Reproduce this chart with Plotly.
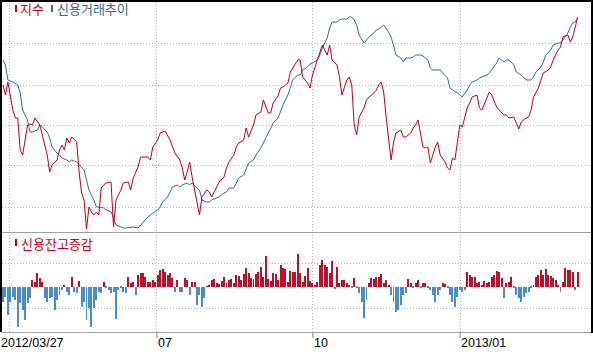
import plotly.graph_objects as go

# ---------------- data ----------------
# daily change of credit balance (lower panel), one value per trading day
bar_val = [-45, -30, -85, -45, -30, -40, -120, -50, -70, -100,
           -50, -35, 20, 15, 40, 25, 15, -35, -45, -35,
           -30, -70, -40, -25, -10, 5, -15, -25, 28, -15,
           -20, 17, -60, -45, -100, -65, -120, -65, -40, -15,
           -20, 15, -5, -10, -20, -15, -98, -10, -5, -15,
           -20, 30, 10, 15, -25, 35, 40, 42, 30, 15,
           15, 20, 15, 35, 50, 52, 45, 35, 40, 25,
           -15, 20, -15, -15, 25, 20, -25, 15, 15, -55,
           -25, -60, -35, 2, 5, 20, 23, 10, 7, 17,
           28, 10, 20, 22, 10, 35, 32, 20, 37, 55,
           40, 25, 22, 38, 45, 60, 30, 92, 22, 17,
           40, 37, 20, 65, 55, 52, 15, 48, 45, 45,
           97, 40, 15, 32, 55, 17, 12, 5, 15, 65,
           80, 65, 60, 40, 78, -8, 60, 10, 20, 20,
           10, 5, -3, 25, -5, -20, -45, -95, -40, 10,
           25, 22, 28, 30, 38, 10, 20, 5, -25, -45,
           -75, -70, -55, -25,
           -20, 22, 10, -5, 12, 20, -5, 10, 12, -5,
           -10, -25, -45, -25, -10, 10, 7, -5, -25, -45,
           -62, -30, -10, -15, -10, 45, 35, 30, 28, 10,
           15, 5, 17, 12, 15, 30, 35, 47, 45, 25,
           -35, 10, 15, 30, -5, -25, -35, -45, -32, -20,
           -15, -5, 3, 30, 35, 50, 35, 52, 35, 32,
           25, 20, 5, -15, 15, 55, 50, 50, 45, -10,
           45]
bar_day = list(range(len(bar_val)))

# 지수 (index), sampled trading-day positions and values
red_day = [0, 1, 2, 4, 5, 6, 7, 8, 10, 11, 12, 13, 15, 16, 18, 19, 20, 22, 23, 24,
           25, 26, 27, 28, 30, 31, 32, 33, 34, 35, 36, 37, 38, 39, 40, 41, 42, 44, 45, 46,
           47, 48, 49, 51, 52, 53, 55, 56, 57, 59, 60, 61, 63, 64, 66, 68, 70, 72, 73, 74,
           75, 76, 77, 79, 80, 81, 83, 84, 85, 87, 88, 90, 91, 92, 94, 95, 96, 98, 99, 100,
           102, 103, 105, 106, 108, 109, 110, 112, 113, 114, 116, 117, 118, 120, 121, 122, 124, 125, 126, 128,
           129, 130, 132, 133, 134, 136, 137, 138, 140, 141, 142, 143, 144, 145, 147, 148, 149, 151, 152, 153,
           154, 155, 156, 157, 158, 159, 160, 162, 163, 164, 166, 167, 168, 169, 171, 172, 173, 174, 176, 177,
           178, 180, 181, 182, 183, 184, 185, 186, 187, 189, 190, 191, 193, 194, 195, 197, 198, 199, 201, 202,
           204, 205, 206, 208, 210, 211, 213, 214, 215, 216, 218, 219, 220, 222, 223, 224, 226, 227, 228, 230,
           231, 232, 233, 234]
red_val = [147, 137, 150, 122, 114, 114, 82, 77, 107, 108, 107, 114, 107, 97, 77, 60, 67, 72, 82, 87,
           82, 94, 89, 95, 90, 60, 39, 32, 3, 25, 20, 17, 20, 17, 44, 47, 49, 50, 5, 32,
           37, 42, 49, 50, 42, 54, 65, 75, 75, 75, 72, 85, 92, 99, 101, 92, 79, 72, 64, 52,
           60, 70, 55, 32, 17, 35, 42, 40, 35, 45, 50, 55, 64, 70, 77, 85, 89, 92, 104, 95,
           107, 117, 120, 132, 119, 119, 129, 136, 144, 145, 149, 160, 164, 172, 172, 155, 149, 144, 157, 172,
           180, 187, 177, 187, 172, 167, 155, 137, 152, 155, 147, 107, 97, 115, 124, 132, 135, 139, 142, 147,
           150, 140, 115, 90, 72, 89, 99, 102, 95, 95, 99, 104, 107, 112, 85, 84, 85, 69, 85, 90,
           77, 70, 64, 62, 74, 72, 92, 107, 105, 124, 129, 135, 137, 124, 122, 135, 140, 137, 125, 122,
           117, 117, 114, 115, 103, 110, 114, 115, 122, 135, 144, 152, 159, 162, 165, 172, 182, 185, 195, 197,
           190, 195, 205, 215]

# 신용거래추이 (credit trading trend)
blue_day = [0, 1, 2, 4, 6, 7, 8, 10, 11, 12, 14, 15, 16, 18, 19, 20, 22, 23, 24, 26,
            27, 28, 30, 31, 33, 34, 35, 37, 38, 39, 41, 42, 44, 45, 46, 48, 49, 50, 52, 53,
            55, 56, 57, 59, 60, 61, 63, 64, 65, 67, 68, 69, 71, 72, 73, 75, 76, 77, 79, 80,
            81, 83, 84, 85, 87, 88, 90, 91, 92, 94, 95, 96, 98, 99, 100, 102, 103, 105, 106, 108,
            109, 110, 112, 113, 114, 116, 117, 118, 120, 121, 122, 124, 125, 126, 128, 129, 130, 132, 133, 134,
            136, 137, 138, 140, 141, 142, 143, 144, 145, 147, 148, 149, 151, 152, 153, 154, 155, 157, 158, 159,
            160, 162, 163, 164, 166, 167, 168, 170, 171, 173, 174, 175, 177, 178, 179, 181, 182, 183, 185, 186,
            187, 189, 190, 191, 193, 194, 195, 197, 198, 199, 201, 202, 204, 205, 206, 208, 209, 211, 212, 213,
            215, 216, 217, 219, 220, 221, 223, 224, 226, 227, 228, 230, 231, 232, 233, 234]
blue_val = [172, 167, 152, 150, 147, 139, 122, 112, 100, 100, 102, 107, 105, 100, 94, 85, 79, 77, 74, 72,
            70, 72, 70, 67, 62, 52, 42, 32, 25, 25, 24, 22, 20, 14, 7, 5, 4, 4, 5, 5,
            4, 7, 10, 15, 17, 19, 22, 25, 30, 35, 40, 45, 47, 45, 47, 49, 47, 49, 44, 42,
            32, 30, 30, 32, 34, 35, 39, 40, 44, 44, 49, 54, 57, 64, 69, 72, 77, 84, 89, 99,
            104, 109, 114, 120, 127, 137, 144, 152, 157, 157, 162, 165, 168, 169, 172, 177, 184, 194, 204, 210,
            210, 212, 213, 213, 215, 215, 212, 207, 197, 189, 192, 195, 199, 202, 203, 205, 207, 200, 195, 187,
            177, 174, 170, 174, 174, 175, 177, 177, 176, 172, 164, 162, 162, 162, 159, 154, 144, 142, 139, 137,
            135, 142, 147, 150, 152, 154, 155, 157, 159, 162, 169, 174, 170, 172, 172, 167, 160, 157, 154, 152,
            152, 155, 160, 165, 170, 177, 182, 187, 189, 189, 192, 199, 205, 209, 210, 214]

# quarterly month-start gridlines and their labels
tick_day = [2.5, 62.7, 126.2, 186.1]
tick_text = ["2012/03/27", "07", "10", "2013/01"]

# ---------------- styling / layout ----------------
W, H = 593, 352
def py(p):
    return 1 - p / H
def px(p):
    return p / W

RED = "#c4001c"
BLUE = "#3468a8"
BAR_RED = "#c01028"
BAR_BLUE = "#4a8ccc"
GRID = "#b8b8b8"
FONT = "Noto Sans CJK KR"
NUMFONT = "Liberation Sans"

X0, X1 = 2, 591           # plot area in pixels
DX = 2.456                # pixels per trading day
XR = [(X0 - 3) / DX, (X1 - 3) / DX]

fig = go.Figure()
fig.add_trace(go.Scatter(x=blue_day, y=blue_val, mode="lines",
                         line=dict(color=BLUE, width=1), xaxis="x", yaxis="y",
                         hoverinfo="skip"))
fig.add_trace(go.Scatter(x=red_day, y=red_val, mode="lines",
                         line=dict(color=RED, width=1), xaxis="x", yaxis="y",
                         hoverinfo="skip"))
fig.add_trace(go.Bar(x=bar_day, y=bar_val, width=0.4,
                     marker=dict(color=[BAR_RED if v > 0 else BAR_BLUE for v in bar_val],
                                 line=dict(width=0)),
                     xaxis="x2", yaxis="y2", hoverinfo="skip"))

axis_common = dict(showticklabels=False, zeroline=False, showline=False, ticks="",
                   showgrid=True, gridcolor=GRID, griddash="1px,2px", gridwidth=1,
                   fixedrange=True)

shapes = []
# black frame
shapes.append(dict(type="rect", xref="paper", yref="paper", x0=0, x1=1, y0=py(2), y1=1,
                   fillcolor="black", line=dict(width=0), layer="above"))
shapes.append(dict(type="rect", xref="paper", yref="paper", x0=0, x1=px(2), y0=py(332), y1=1,
                   fillcolor="black", line=dict(width=0), layer="above"))
shapes.append(dict(type="rect", xref="paper", yref="paper", x0=px(591), x1=1, y0=py(333), y1=1,
                   fillcolor="black", line=dict(width=0), layer="above"))
# panel separators
for yy in (232.5, 332.5):
    shapes.append(dict(type="line", xref="paper", yref="paper", x0=px(2), x1=px(591),
                       y0=py(yy), y1=py(yy), line=dict(color="#a0a0a0", width=1)))
# tick marks under labelled gridlines
for t in tick_day[1:]:
    shapes.append(dict(type="line", xref="x2", yref="paper", x0=t, x1=t,
                       y0=py(333), y1=py(338), line=dict(color="#808080", width=1)))
# legend swatches
shapes.append(dict(type="rect", xref="paper", yref="paper", x0=px(15), x1=px(17),
                   y0=py(12), y1=py(5), fillcolor=RED, line=dict(width=0)))
shapes.append(dict(type="rect", xref="paper", yref="paper", x0=px(51), x1=px(53),
                   y0=py(12), y1=py(5), fillcolor=BLUE, line=dict(width=0)))
shapes.append(dict(type="rect", xref="paper", yref="paper", x0=px(15), x1=px(17),
                   y0=py(246), y1=py(239), fillcolor=RED, line=dict(width=0)))

annotations = [
    dict(text="지수", xref="paper", yref="paper", x=px(18), y=py(9), xanchor="left",
         yanchor="middle", showarrow=False, font=dict(family=FONT, size=13, color=RED)),
    dict(text="신용거래추이", xref="paper", yref="paper", x=px(55), y=py(9), xanchor="left",
         yanchor="middle", showarrow=False, font=dict(family=FONT, size=13, color=BLUE)),
    dict(text="신용잔고증감", xref="paper", yref="paper", x=px(19), y=py(243), xanchor="left",
         yanchor="middle", showarrow=False, font=dict(family=FONT, size=13, color=RED)),
    dict(text=tick_text[0], xref="paper", yref="paper", x=px(-1), y=py(343), xanchor="left",
         yanchor="middle", showarrow=False, font=dict(family=NUMFONT, size=12.5, color="black")),
]
for t, lab in zip(tick_day[1:], tick_text[1:]):
    annotations.append(dict(text=lab, xref="x2", yref="paper", x=t, y=py(343),
                            xanchor="left", yanchor="middle", showarrow=False, xshift=-1,
                            font=dict(family=NUMFONT, size=12.5, color="black")))

fig.update_layout(
    width=W, height=H, margin=dict(l=0, r=0, t=0, b=0, pad=0),
    paper_bgcolor="white", plot_bgcolor="white", showlegend=False,
    bargap=0,
    xaxis=dict(domain=[px(X0), px(X1)], range=XR, tickvals=tick_day, anchor="y", **axis_common),
    xaxis2=dict(domain=[px(X0), px(X1)], range=XR, tickvals=tick_day, anchor="y2",
                matches="x", **axis_common),
    yaxis=dict(domain=[py(232), py(2)], range=[0, 230],
               tickvals=[24.7, 66.3, 107, 147, 188.7], anchor="x", **axis_common),
    yaxis2=dict(domain=[py(332), py(232)], range=[-136, 164],
                tickvals=[-64, 71], anchor="x2", **axis_common),
    shapes=shapes, annotations=annotations,
)

fig.write_html("out.html")
